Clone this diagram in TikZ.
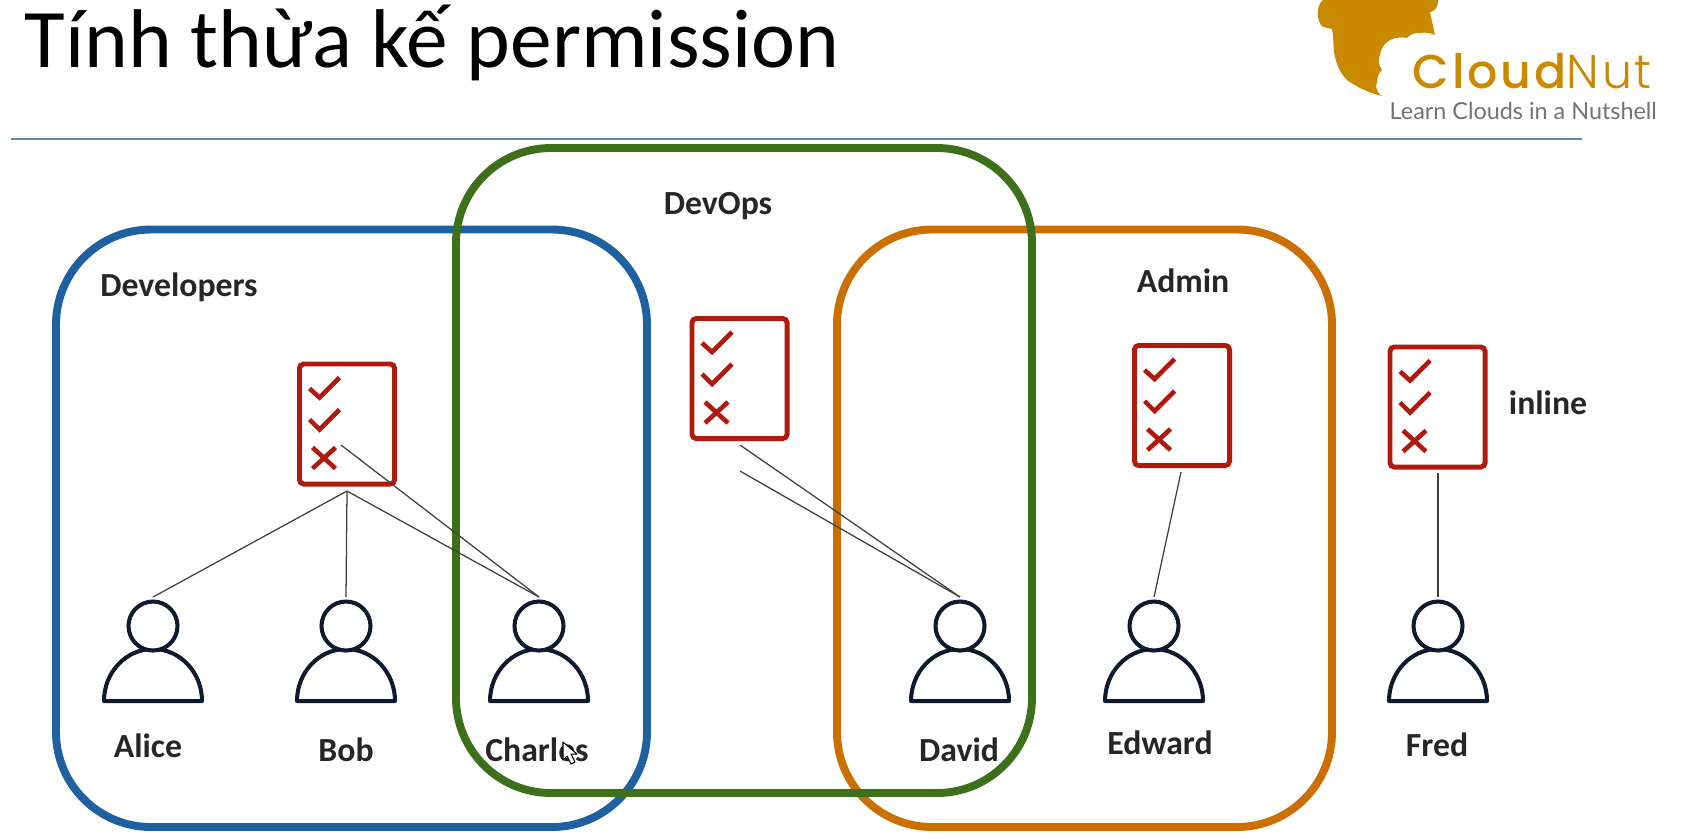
\documentclass[tikz,border=0pt]{standalone}
\usepackage{fontspec}
\setmainfont{Carlito}
\newfontfamily\logofont[LetterSpace=6]{Poppins Medium}
\newfontfamily\logolight[LetterSpace=6]{Poppins Light}
\newfontfamily\tagfont{Lato}
\usepackage{tikz}
\usetikzlibrary{calc,positioning}
\definecolor{devblue}{RGB}{31,96,160}
\definecolor{opsgreen}{RGB}{62,112,28}
\definecolor{adminorange}{RGB}{203,112,0}
\definecolor{listred}{RGB}{176,25,13}
\definecolor{iconink}{RGB}{15,27,44}
\definecolor{nutgold}{RGB}{201,138,0}
\definecolor{rulegray}{RGB}{96,137,160}
\tikzset{
  groupbox/.style={line width=2.25pt, rounded corners=.95cm},
  listbox/.style={draw=listred, fill=white, line width=1.4pt, rounded corners=1.2pt,
                  minimum width=9.5mm, minimum height=12mm, inner sep=0pt},
  listmark/.style={draw=listred, line width=1.3pt},
  glabel/.style={font=\fontsize{9.6}{11}\selectfont\bfseries, text=black!85},
  plink/.style={black!75, line width=0.36pt},
  listicon/.pic={
    \draw[listmark] (-37.5,-35.5) -- (-27.5,-26.5) -- (-7.5,-46.5);
    \draw[listmark] (-37.5,-4.5) -- (-27.5,5.5) -- (-7.5,-14.5);
    \draw[listmark] (-34.5,23.5) -- (-11.5,44.5) (-34.5,44.5) -- (-11.5,23.5);
  },
  personicon/.pic={
    \draw[iconink, line width=1.15pt, line join=round]
      (-49,50) arc[start angle=180, end angle=360, x radius=49, y radius=52] -- cycle;
    \draw[iconink, line width=1.15pt, fill=white] (0,-25) circle (24.5);
    \coordinate (-top) at (0,-54);
  },
}
\begin{document}
\begin{tikzpicture}[x=0.01cm, y=-0.01cm]
  \useasboundingbox (0,0) rectangle (1701,838);
  % heading
  \node[anchor=base west, inner sep=0pt, font=\fontsize{23.7}{28}\selectfont] (title) at (24,67)
    {Tính thừa kế permission};
  \draw[rulegray, line width=0.4pt] (11,139) -- (1582,139);
  % logo
  \fill[nutgold] (1323,0) .. controls (1316,5) and (1316,22) .. (1323,27)
    -- (1332,29) .. controls (1334,40) and (1333,50) .. (1335,57)
    .. controls (1337,66) and (1341,74) .. (1347,80)
    .. controls (1358,88) and (1370,93) .. (1382,96)
    .. controls (1376,92) and (1375,84) .. (1377,83)
    .. controls (1377,77) and (1379,72) .. (1382,70)
    .. controls (1378,64) and (1378,60) .. (1380,55)
    .. controls (1381,47) and (1386,42) .. (1390,40)
    .. controls (1396,37) and (1402,37) .. (1407,38)
    .. controls (1411,33) and (1416,33) .. (1420,33)
    .. controls (1425,32) and (1431,33) .. (1435,35)
    -- (1430,12) .. controls (1434,11) and (1438,9) .. (1438,0) -- cycle;
  \node[anchor=base west, inner sep=0pt, text=nutgold, font=\fontsize{13.5}{15}\selectfont] (brand) at (1412,88)
    {{\logofont Cloud}{\logolight Nut}};
  \node[anchor=base west, inner sep=0pt, text=black!55, font=\tagfont\fontsize{6.65}{8}\selectfont] (tag) at (1389,119)
    {Learn Clouds in a Nutshell};
  % groups
  \draw[groupbox, devblue] (56,229.5) rectangle (647,827);
  \draw[groupbox, adminorange] (837,229.5) rectangle (1332,827);
  \draw[groupbox, opsgreen] (456,148) rectangle (1032,793);
  % lists
  \node[listbox] (devlist) at (347,424) {};
  \node[listbox] (opslist) at (739.5,378.5) {};
  \node[listbox] (adminlist) at (1182,405.5) {};
  \node[listbox] (inlinelist) at (1437.5,407) {};
  \pic at (devlist) {listicon};
  \pic at (opslist) {listicon};
  \pic at (adminlist) {listicon};
  \pic at (inlinelist) {listicon};
  \coordinate (devfoot) at (347,491);
  \coordinate (devmark) at (341,445);
  \coordinate (opsmark) at (740,445);
  \coordinate (opsfoot) at (740,471);
  \coordinate (adminfoot) at (1181,472);
  \coordinate (inlinefoot) at (1438,473);
  % people
  \pic (alice) at (153,651) {personicon};
  \pic (bob) at (346,651) {personicon};
  \pic (charles) at (539,651) {personicon};
  \pic (david) at (960,651) {personicon};
  \pic (edward) at (1154,651) {personicon};
  \pic (fred) at (1438,651) {personicon};
  % links
  \draw[plink] (devfoot) -- (alice-top);
  \draw[plink] (devfoot) -- (bob-top);
  \draw[plink] (devfoot) -- (charles-top);
  \draw[plink] (devmark) -- (charles-top);
  \draw[plink] (opsmark) -- (david-top);
  \draw[plink] (opsfoot) -- (david-top);
  \draw[plink] (adminfoot) -- (edward-top);
  \draw[plink] (inlinefoot) -- (fred-top);
  % labels
  \node[glabel] (devlabel) at (179,287) {Developers};
  \node[glabel] (opslabel) at (718,206) {DevOps};
  \node[glabel] (adminlabel) at (1183,281) {Admin};
  \node[glabel] (inlinelabel) at (1548,403) {inline};
  \node[glabel] (alicelabel) at (148,746) {Alice};
  \node[glabel] (boblabel) at (346,750) {Bob};
  \node[glabel] (charleslabel) at (537,750) {Charles};
  \node[glabel] (davidlabel) at (959,750) {David};
  \node[glabel] (edwardlabel) at (1160,743) {Edward};
  \node[glabel] (fredlabel) at (1437,745) {Fred};
  % pointer
  \draw[black, fill=white, line width=0.3pt, line join=round]
    (563,742) -- (563,760) -- (567,756) -- (571,764) -- (575,762) -- (571,754) -- (577,754) -- cycle;
\end{tikzpicture}
\end{document}
